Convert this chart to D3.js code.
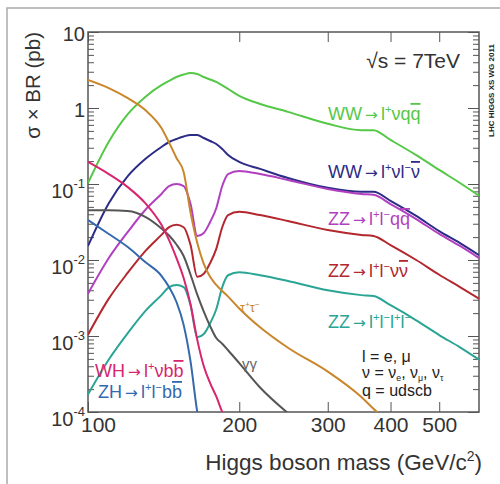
<!DOCTYPE html>
<html>
<head>
<meta charset="utf-8">
<script src="https://cdn.jsdelivr.net/npm/d3@7"></script>
<style>
body { margin: 0; background: #fff; }
svg text { font-family: "Liberation Sans", Arial, Helvetica, sans-serif; }
.axis .domain { display: none; }
.axis line { stroke: #555; }
</style>
</head>
<body>
<div id="chart"></div>
<script>
// Higgs boson mass grid (GeV/c^2)
var masses = [100, 110, 120, 130, 140, 145, 150, 155, 160, 165, 170, 175, 180, 185, 190, 200, 220, 250, 300, 350, 370, 400, 450, 500, 550, 600];

// sigma x BR (pb)
var wwLnuqq  = [0.103, 0.36, 0.83, 1.4, 2.0, 2.27, 2.56, 2.76, 2.89, 2.8, 2.56, 2.37, 2.2, 1.98, 1.78, 1.44, 1.13, 0.89, 0.62, 0.51, 0.51, 0.38, 0.24, 0.153, 0.103, 0.07];
var wwLnuLnu = [0.0153, 0.056, 0.127, 0.213, 0.307, 0.357, 0.391, 0.422, 0.441, 0.441, 0.403, 0.368, 0.336, 0.289, 0.241, 0.195, 0.158, 0.12, 0.089, 0.079, 0.079, 0.06, 0.038, 0.024, 0.0167, 0.0116];
var zzLLqq   = [0.0036, 0.0106, 0.0234, 0.0455, 0.074, 0.094, 0.1, 0.094, 0.0545, 0.0207, 0.0227, 0.0316, 0.048, 0.094, 0.135, 0.148, 0.135, 0.113, 0.086, 0.074, 0.072, 0.0545, 0.0346, 0.022, 0.0153, 0.0106];
var zzLLnunu = [0.00104, 0.0031, 0.0068, 0.0131, 0.0214, 0.027, 0.029, 0.027, 0.0157, 0.006, 0.0066, 0.0091, 0.014, 0.027, 0.039, 0.043, 0.039, 0.0326, 0.0248, 0.0214, 0.0207, 0.0157, 0.01, 0.0064, 0.0044, 0.0031];
var zzLLLL   = [0.00017, 0.00049, 0.00109, 0.00212, 0.00345, 0.0044, 0.0047, 0.0044, 0.00254, 0.00096, 0.00106, 0.00147, 0.00225, 0.0044, 0.0063, 0.0069, 0.0063, 0.0053, 0.004, 0.00345, 0.00335, 0.00254, 0.00161, 0.00103, 0.00071, 0.00049];
var tautau   = [2.34, 1.83, 1.35, 0.94, 0.545, 0.35, 0.22, 0.144, 0.042, 0.0167, 0.0089, 0.006, 0.0047, 0.0039, 0.0033, 0.0023, 0.0013, 0.0007, 0.00034, 0.000157, 0.00011, 0.00007, null, null, null, null];
var gamgam   = [0.045, 0.045, 0.044, 0.037, 0.026, 0.021, 0.016, 0.0113, 0.0064, 0.0035, 0.0021, 0.00135, 0.00094, 0.00079, 0.00065, 0.00044, 0.00021, 0.0000965, null, null, null, null, null, null, null, null];
var whLnubb  = [0.195, 0.135, 0.091, 0.056, 0.029, 0.0183, 0.0106, 0.0058, 0.0026, 0.00089, 0.0004, 0.00024, 0.00016, 0.0001, 0.00007, null, null, null, null, null, null, null, null, null, null, null];
var zhLLbb   = [0.0336, 0.022, 0.0148, 0.0094, 0.0062, 0.0044, 0.0028, 0.0014, 0.00046, 0.0001, 0.00004, null, null, null, null, null, null, null, null, null, null, null, null, null, null, null];

// axis ticks
var xTicks = [100, 200, 300, 400, 500];
var yTicks = [1e-4, 1e-3, 1e-2, 1e-1, 1, 10];

var w = 500, h = 484;
var svg = d3.select("#chart").append("svg").attr("width", w).attr("height", h);

// light outer border of the picture
svg.append("path").attr("d", "M7,484V8H500").attr("fill", "none")
   .attr("stroke", "#aaa").attr("stroke-width", 1.5);

var x = d3.scaleLog().domain([100, 600]).range([88, 479]);
var y = d3.scaleLog().domain([1e-4, 10]).range([412, 32]);

var yMinor = [];
yTicks.slice(0, -1).forEach(function(d) {
  for (var k = 2; k < 10; k++) yMinor.push(d * k);
});

// left axis
var yAxis = svg.append("g").attr("class", "axis").attr("transform", "translate(88,0)")
   .call(d3.axisLeft(y).tickValues(yTicks).tickSize(-11).tickFormat(function() { return ""; }));
yAxis.selectAll(".tick text").each(function(d) {
  var t = d3.select(this).attr("font-size", 20).attr("fill", "#333")
            .attr("text-anchor", "end").attr("x", -3).attr("dy", null);
  var e = Math.round(Math.log10(d));
  if (e >= 0) {
    t.attr("y", 8).text(e === 0 ? "1" : "10");
  } else {
    t.attr("y", 13);
    t.append("tspan").text("10");
    t.append("tspan").attr("dy", -10).attr("font-size", 13).text("-" + (-e));
  }
});
svg.append("g").attr("class", "axis").attr("transform", "translate(88,0)")
   .call(d3.axisLeft(y).tickValues(yMinor).tickSize(-6).tickFormat(""));

// right axis
svg.append("g").attr("class", "axis").attr("transform", "translate(479,0)")
   .call(d3.axisRight(y).tickValues(yTicks).tickSize(-11).tickFormat(""));
svg.append("g").attr("class", "axis").attr("transform", "translate(479,0)")
   .call(d3.axisRight(y).tickValues(yMinor).tickSize(-6).tickFormat(""));

// bottom axis
var xAxis = svg.append("g").attr("class", "axis").attr("transform", "translate(0,412)")
   .call(d3.axisBottom(x).tickValues(xTicks).tickSize(-10).tickFormat(d3.format("d")));
xAxis.selectAll(".tick text")
   .attr("font-size", 21).attr("fill", "#333").attr("y", 20).attr("dy", 0)
   .attr("dx", function(d) { return d === 100 ? 10 : 0; });

// top axis
svg.append("g").attr("class", "axis").attr("transform", "translate(0,32)")
   .call(d3.axisTop(x).tickValues(xTicks).tickSize(-10).tickFormat(""));

// frame
svg.append("rect").attr("x", 88).attr("y", 32).attr("width", 391).attr("height", 380)
   .attr("fill", "none").attr("stroke", "#555").attr("stroke-width", 1.5);

// curves
svg.append("clipPath").attr("id", "plot")
   .append("rect").attr("x", 88).attr("y", 32).attr("width", 391).attr("height", 380);

var series = [
  {vals: wwLnuqq,  color: "#55c847"},
  {vals: wwLnuLnu, color: "#2c2c86"},
  {vals: zzLLqq,   color: "#b13fc0"},
  {vals: zzLLnunu, color: "#b3282e"},
  {vals: zzLLLL,   color: "#2aa595"},
  {vals: tautau,   color: "#c9862b"},
  {vals: gamgam,   color: "#555555"},
  {vals: whLnubb,  color: "#d8256f"},
  {vals: zhLLbb,   color: "#3469ae"}
];

var line = d3.line()
   .defined(function(d) { return d[1] != null; })
   .x(function(d) { return x(d[0]); })
   .y(function(d) { return y(d[1]); })
   .curve(d3.curveMonotoneX);

svg.append("g").attr("clip-path", "url(#plot)")
   .selectAll("path")
   .data(series)
   .enter()
   .append("path")
   .attr("d", function(s) { return line(masses.map(function(m, i) { return [m, s.vals[i]]; })); })
   .attr("fill", "none")
   .attr("stroke", function(s) { return s.color; })
   .attr("stroke-width", 2);

// text with super/subscripts, bars and arrows: parts are [text, kind]
function richText(px, py, size, color, parts) {
  var t = svg.append("text").attr("x", px).attr("y", py)
             .attr("font-size", size).attr("fill", color);
  var shift = 0;
  parts.forEach(function(p) {
    var s = t.append("tspan").text(p[0]);
    var target = p[1] === "sup" ? -size * 0.4 : p[1] === "sub" ? size * 0.2 : 0;
    if (target !== shift) { s.attr("dy", target - shift); shift = target; }
    if (p[1] === "sup") s.attr("font-size", size * 0.62);
    if (p[1] === "sub") s.attr("font-size", size * 0.55);
    if (p[1] === "bar") s.style("text-decoration", "overline");
    if (p[1] === "arrow") s.style("font-family", "'DejaVu Sans', sans-serif").attr("font-size", size * 0.85);
  });
  return t;
}

var arrow = ["\u2009\u2192\u2009", "arrow"];
richText(328, 120, 18, "#55c847", [["WW"], arrow, ["l"], ["+", "sup"], ["\u03bdq"], ["q", "bar"]]);
richText(328, 178, 18, "#2c2c86", [["WW"], arrow, ["l"], ["+", "sup"], ["\u03bdl"], ["\u2212", "sup"], ["\u03bd", "bar"]]);
richText(328, 225, 18, "#b13fc0", [["ZZ"], arrow, ["l"], ["+", "sup"], ["l"], ["\u2212", "sup"], ["q"], ["q", "bar"]]);
richText(328, 277, 18, "#b3282e", [["ZZ"], arrow, ["l"], ["+", "sup"], ["l"], ["\u2212", "sup"], ["\u03bd"], ["\u03bd", "bar"]]);
richText(328, 328, 18, "#2aa595", [["ZZ"], arrow, ["l"], ["+", "sup"], ["l"], ["\u2212", "sup"], ["l"], ["+", "sup"], ["l"], ["\u2212", "sup"]]);
richText(240, 312, 13, "#c9862b", [["\u03c4"], ["+", "sup"], ["\u03c4"], ["\u2212", "sup"]]);
richText(242, 369, 15, "#666", [["\u03b3\u03b3"]]);
richText(95, 377, 18, "#d8256f", [["WH"], arrow, ["l"], ["+", "sup"], ["\u03bdb"], ["b", "bar"]]);
richText(98, 398, 18, "#3469ae", [["ZH"], arrow, ["l"], ["+", "sup"], ["l"], ["\u2212", "sup"], ["b"], ["b", "bar"]]);

richText(362, 362, 16, "#222", [["l = e, \u03bc"]]);
richText(362, 378, 16, "#222", [["\u03bd = \u03bd"], ["e", "sub"], [", \u03bd"], ["\u03bc", "sub"], [", \u03bd"], ["\u03c4", "sub"]]);
richText(362, 396, 16, "#222", [["q = udscb"]]);

svg.append("text").attr("x", 460).attr("y", 68).attr("text-anchor", "end")
   .attr("font-size", 21).attr("fill", "#333").text("\u221as = 7TeV");

svg.append("text").attr("transform", "translate(494,137) rotate(-90)")
   .attr("font-size", 8).attr("font-weight", "bold").attr("fill", "#222")
   .text("LHC HIGGS XS WG 2011");

// axis titles
svg.append("text").attr("transform", "translate(40,32) rotate(-90)")
   .attr("text-anchor", "end").attr("font-size", 20.5).attr("fill", "#333")
   .text("\u03c3 \u00d7 BR (pb)");

var xt = svg.append("text").attr("x", 482).attr("y", 470).attr("text-anchor", "end")
   .attr("font-size", 22.5).attr("fill", "#333");
xt.append("tspan").text("Higgs boson mass (GeV/c");
xt.append("tspan").attr("dy", -9).attr("font-size", 14).text("2");
xt.append("tspan").attr("dy", 9).text(")");
</script>
</body>
</html>
